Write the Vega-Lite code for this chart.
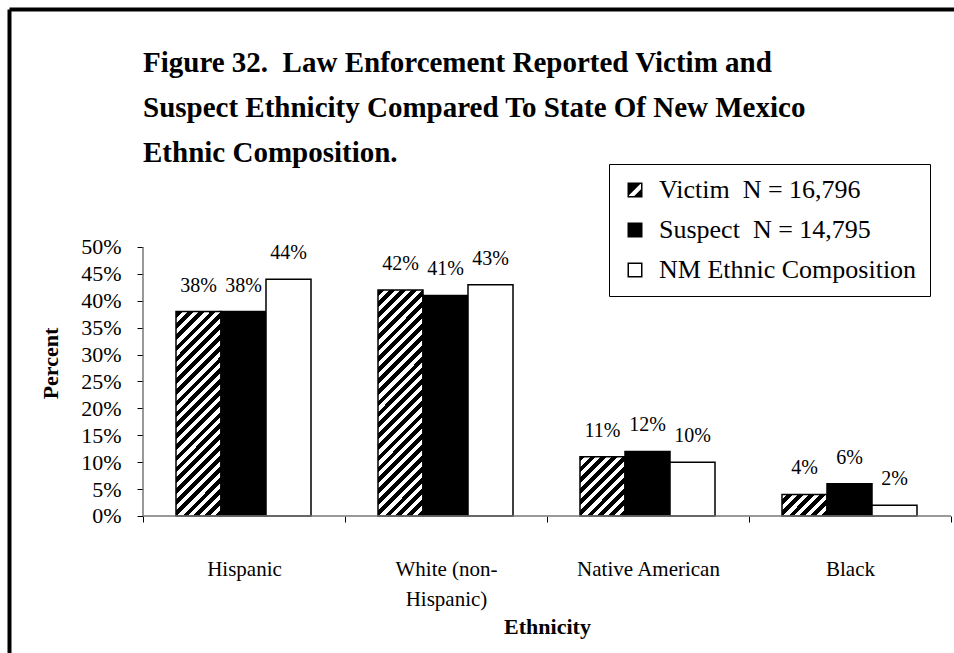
{
  "$schema": "https://vega.github.io/schema/vega-lite/v6.json",
  "width": 945,
  "height": 644,
  "autosize": {"type": "none"},
  "padding": {"left": 9, "top": 9, "right": 0, "bottom": 0},
  "background": "white",
  "config": {
    "view": {"stroke": null},
    "font": "Liberation Serif",
    "axis": {"labelFont": "Liberation Serif", "titleFont": "Liberation Serif", "labelColor": "black", "titleColor": "black"},
    "legend": {"labelFont": "Liberation Serif", "titleFont": "Liberation Serif"},
    "text": {"font": "Liberation Serif"},
    "title": {"font": "Liberation Serif"}
  },
  "title": {
    "text": ["Figure 32.\u00a0 Law Enforcement Reported Victim and", "Suspect Ethnicity Compared To State Of New Mexico", "Ethnic Composition."],
    "anchor": "start",
    "frame": "group",
    "dx": 134,
    "dy": 182,
    "offset": 0,
    "baseline": "alphabetic",
    "lineHeight": 45,
    "fontSize": 29,
    "fontWeight": "bold",
    "font": "Liberation Serif",
    "color": "black"
  },
  "data": {
    "values": [
      {"Ethnicity": "Hispanic", "Series": "Victim", "Percent": 38},
      {"Ethnicity": "Hispanic", "Series": "Suspect", "Percent": 38},
      {"Ethnicity": "Hispanic", "Series": "NM", "Percent": 44},
      {"Ethnicity": "White (non-Hispanic)", "Series": "Victim", "Percent": 42},
      {"Ethnicity": "White (non-Hispanic)", "Series": "Suspect", "Percent": 41},
      {"Ethnicity": "White (non-Hispanic)", "Series": "NM", "Percent": 43},
      {"Ethnicity": "Native American", "Series": "Victim", "Percent": 11},
      {"Ethnicity": "Native American", "Series": "Suspect", "Percent": 12},
      {"Ethnicity": "Native American", "Series": "NM", "Percent": 10},
      {"Ethnicity": "Black", "Series": "Victim", "Percent": 4},
      {"Ethnicity": "Black", "Series": "Suspect", "Percent": 6},
      {"Ethnicity": "Black", "Series": "NM", "Percent": 2}
    ]
  },
  "layer": [
    {
      "transform": [{"filter": "datum.Series === 'Victim'"}],
      "mark": {
        "type": "bar",
        "stroke": null,
        "fill": {
          "gradient": "linear", "x1": 0, "y1": 0, "x2": 0.18996, "y2": 1.13551,
          "stops": [
            {"offset": 0, "color": "#000"},
            {"offset": 0.01752, "color": "#000"}, {"offset": 0.01752, "color": "#fff"},
            {"offset": 0.03503, "color": "#fff"}, {"offset": 0.03503, "color": "#000"},
            {"offset": 0.05255, "color": "#000"}, {"offset": 0.05255, "color": "#fff"},
            {"offset": 0.07006, "color": "#fff"}, {"offset": 0.07006, "color": "#000"},
            {"offset": 0.08758, "color": "#000"}, {"offset": 0.08758, "color": "#fff"},
            {"offset": 0.1051, "color": "#fff"}, {"offset": 0.1051, "color": "#000"},
            {"offset": 0.12261, "color": "#000"}, {"offset": 0.12261, "color": "#fff"},
            {"offset": 0.14013, "color": "#fff"}, {"offset": 0.14013, "color": "#000"},
            {"offset": 0.15764, "color": "#000"}, {"offset": 0.15764, "color": "#fff"},
            {"offset": 0.17516, "color": "#fff"}, {"offset": 0.17516, "color": "#000"},
            {"offset": 0.19268, "color": "#000"}, {"offset": 0.19268, "color": "#fff"},
            {"offset": 0.21019, "color": "#fff"}, {"offset": 0.21019, "color": "#000"},
            {"offset": 0.22771, "color": "#000"}, {"offset": 0.22771, "color": "#fff"},
            {"offset": 0.24522, "color": "#fff"}, {"offset": 0.24522, "color": "#000"},
            {"offset": 0.26274, "color": "#000"}, {"offset": 0.26274, "color": "#fff"},
            {"offset": 0.28025, "color": "#fff"}, {"offset": 0.28025, "color": "#000"},
            {"offset": 0.29777, "color": "#000"}, {"offset": 0.29777, "color": "#fff"},
            {"offset": 0.31529, "color": "#fff"}, {"offset": 0.31529, "color": "#000"},
            {"offset": 0.3328, "color": "#000"}, {"offset": 0.3328, "color": "#fff"},
            {"offset": 0.35032, "color": "#fff"}, {"offset": 0.35032, "color": "#000"},
            {"offset": 0.36783, "color": "#000"}, {"offset": 0.36783, "color": "#fff"},
            {"offset": 0.38535, "color": "#fff"}, {"offset": 0.38535, "color": "#000"},
            {"offset": 0.40287, "color": "#000"}, {"offset": 0.40287, "color": "#fff"},
            {"offset": 0.42038, "color": "#fff"}, {"offset": 0.42038, "color": "#000"},
            {"offset": 0.4379, "color": "#000"}, {"offset": 0.4379, "color": "#fff"},
            {"offset": 0.45541, "color": "#fff"}, {"offset": 0.45541, "color": "#000"},
            {"offset": 0.47293, "color": "#000"}, {"offset": 0.47293, "color": "#fff"},
            {"offset": 0.49045, "color": "#fff"}, {"offset": 0.49045, "color": "#000"},
            {"offset": 0.50796, "color": "#000"}, {"offset": 0.50796, "color": "#fff"},
            {"offset": 0.52548, "color": "#fff"}, {"offset": 0.52548, "color": "#000"},
            {"offset": 0.54299, "color": "#000"}, {"offset": 0.54299, "color": "#fff"},
            {"offset": 0.56051, "color": "#fff"}, {"offset": 0.56051, "color": "#000"},
            {"offset": 0.57803, "color": "#000"}, {"offset": 0.57803, "color": "#fff"},
            {"offset": 0.59554, "color": "#fff"}, {"offset": 0.59554, "color": "#000"},
            {"offset": 0.61306, "color": "#000"}, {"offset": 0.61306, "color": "#fff"},
            {"offset": 0.63057, "color": "#fff"}, {"offset": 0.63057, "color": "#000"},
            {"offset": 0.64809, "color": "#000"}, {"offset": 0.64809, "color": "#fff"},
            {"offset": 0.66561, "color": "#fff"}, {"offset": 0.66561, "color": "#000"},
            {"offset": 0.68312, "color": "#000"}, {"offset": 0.68312, "color": "#fff"},
            {"offset": 0.70064, "color": "#fff"}, {"offset": 0.70064, "color": "#000"},
            {"offset": 0.71815, "color": "#000"}, {"offset": 0.71815, "color": "#fff"},
            {"offset": 0.73567, "color": "#fff"}, {"offset": 0.73567, "color": "#000"},
            {"offset": 0.75318, "color": "#000"}, {"offset": 0.75318, "color": "#fff"},
            {"offset": 0.7707, "color": "#fff"}, {"offset": 0.7707, "color": "#000"},
            {"offset": 0.78822, "color": "#000"}, {"offset": 0.78822, "color": "#fff"},
            {"offset": 0.80573, "color": "#fff"}, {"offset": 0.80573, "color": "#000"},
            {"offset": 0.82325, "color": "#000"}, {"offset": 0.82325, "color": "#fff"},
            {"offset": 0.84076, "color": "#fff"}, {"offset": 0.84076, "color": "#000"},
            {"offset": 0.85828, "color": "#000"}, {"offset": 0.85828, "color": "#fff"},
            {"offset": 0.8758, "color": "#fff"}, {"offset": 0.8758, "color": "#000"},
            {"offset": 0.89331, "color": "#000"}, {"offset": 0.89331, "color": "#fff"},
            {"offset": 0.91083, "color": "#fff"}, {"offset": 0.91083, "color": "#000"},
            {"offset": 0.92834, "color": "#000"}, {"offset": 0.92834, "color": "#fff"},
            {"offset": 0.94586, "color": "#fff"}, {"offset": 0.94586, "color": "#000"},
            {"offset": 0.96338, "color": "#000"}, {"offset": 0.96338, "color": "#fff"},
            {"offset": 0.98089, "color": "#fff"}, {"offset": 0.98089, "color": "#000"},
            {"offset": 0.99841, "color": "#000"}, {"offset": 0.99841, "color": "#fff"},
            {"offset": 1, "color": "#fff"}
          ]
        }
      },
      "encoding": {
        "x": {
          "field": "Ethnicity", "type": "nominal",
          "scale": {"domain": ["Hispanic", "White (non-Hispanic)", "Native American", "Black"], "paddingInner": 0, "paddingOuter": 0.33911, "align": 0.9781, "round": false},
          "axis": {
            "orient": "bottom", "offset": -137, "domain": false, "grid": false,
            "tickBand": "extent", "ticks": true, "tickSize": 6, "tickColor": "black", "tickWidth": 1,
            "labelAngle": 0, "labelFontSize": 21, "labelPadding": 36, "labelLineHeight": 30,
            "labelExpr": "datum.label == 'White (non-Hispanic)' ? ['White (non-', 'Hispanic)'] : datum.label",
            "title": "Ethnicity", "titleFontSize": 22, "titleFontWeight": "bold",
            "titleX": 538, "titleY": 117, "titleBaseline": "alphabetic"
          }
        },
        "xOffset": {"field": "Series", "type": "nominal", "scale": {"domain": ["Victim", "Suspect", "NM"], "paddingInner": 0, "paddingOuter": 0.74444, "align": 0.49254}},
        "y": {
          "datum": 50, "type": "quantitative",
          "scale": {"domain": [-25.465, 94.238], "nice": false, "zero": false},
          "axis": {
            "orient": "left", "offset": -134, "domain": false, "grid": false,
            "values": [0, 5, 10, 15, 20, 25, 30, 35, 40, 45, 50],
            "labelExpr": "datum.value + '%'",
            "tickSize": 6, "tickColor": "black", "tickWidth": 1,
            "labelFontSize": 22, "labelPadding": 16,
            "title": "Percent", "titleFontSize": 22, "titleFontWeight": "bold",
            "titleX": -93, "titleY": 354, "titleBaseline": "middle"
          }
        },
        "y2": {"datum": 0}
      }
    },
    {
      "transform": [{"filter": "datum.Series === 'Victim'"}],
      "mark": {"type": "bar", "fill": "white", "stroke": null},
      "encoding": {
        "x": {"field": "Ethnicity", "type": "nominal", "axis": null},
        "xOffset": {"field": "Series", "type": "nominal"},
        "y": {"field": "Percent", "type": "quantitative", "axis": null},
        "y2": {"datum": 50.6}
      }
    },
    {
      "transform": [{"filter": "datum.Series === 'Victim'"}],
      "mark": {"type": "bar", "fill": "transparent", "stroke": "black", "strokeWidth": 1.5},
      "encoding": {
        "x": {"field": "Ethnicity", "type": "nominal", "axis": null},
        "xOffset": {"field": "Series", "type": "nominal"},
        "y": {"field": "Percent", "type": "quantitative", "axis": null},
        "y2": {"datum": 0}
      }
    },
    {
      "transform": [{"filter": "datum.Series !== 'Victim'"}],
      "mark": {"type": "bar", "stroke": "black", "strokeWidth": 1.5},
      "encoding": {
        "x": {"field": "Ethnicity", "type": "nominal", "axis": null},
        "xOffset": {"field": "Series", "type": "nominal"},
        "y": {"field": "Percent", "type": "quantitative", "axis": null},
        "y2": {"datum": 0},
        "fill": {"condition": {"test": "datum.Series === 'Suspect'", "value": "black"}, "value": "white"}
      }
    },
    {
      "mark": {"type": "point", "filled": true, "fill": "black", "opacity": 1, "strokeWidth": 0, "size": 225, "clip": true},
      "encoding": {
        "x": {"field": "Ethnicity", "type": "nominal", "axis": null},
        "y": {"datum": -100, "type": "quantitative", "axis": null},
        "shape": {
          "field": "Series", "type": "nominal",
          "scale": {
            "domain": ["Victim", "Suspect", "NM"],
            "range": [
              "M-1,-1H1V1H-1Z M-0.8,-0.8V0.8H0.8V-0.8Z M-1,-1L0.9,-1L-1,0.9Z M1,-0.3L1,1L-0.3,1Z",
              "M-1,-1H1V1H-1Z",
              "M-1,-1H1V1H-1Z M-0.8,-0.8V0.8H0.8V-0.8Z"
            ]
          },
          "legend": {
            "orient": "none", "legendX": 600, "legendY": 155, "title": null,
            "labelExpr": "datum.label == 'Victim' ? 'Victim\u00a0 N = 16,796' : datum.label == 'Suspect' ? 'Suspect\u00a0 N = 14,795' : 'NM Ethnic Composition'",
            "labelFontSize": 26, "labelColor": "black", "labelOffset": 11, "labelLimit": 400,
            "symbolSize": 225, "symbolStrokeWidth": 0, "symbolOpacity": 1, "symbolFillColor": "black",
            "rowPadding": 14, "padding": 13,
            "strokeColor": "black", "fillColor": "white",
            "encode": {"legend": {"strokeWidth": {"value": 3}}}
          }
        }
      }
    },
    {
      "transform": [{"calculate": "datum.Percent + '%'", "as": "Label"}],
      "mark": {"type": "text", "baseline": "alphabetic", "dy": -20, "fontSize": 20, "font": "Liberation Serif", "color": "black"},
      "encoding": {
        "x": {"field": "Ethnicity", "type": "nominal", "axis": null},
        "xOffset": {"field": "Series", "type": "nominal"},
        "y": {"field": "Percent", "type": "quantitative", "axis": null},
        "text": {"field": "Label", "type": "nominal"}
      }
    },
    {
      "transform": [{"filter": "datum.Series === 'NM'"}],
      "mark": {"type": "rule", "color": "#777", "strokeWidth": 1.5},
      "encoding": {
        "x": {
          "field": "Ethnicity", "type": "nominal", "bandPosition": 0,
          "axis": {"orient": "top", "offset": 0, "domain": true, "domainColor": "black", "domainWidth": 4, "ticks": false, "labels": false, "title": null, "grid": false}
        },
        "x2": {"field": "Ethnicity", "bandPosition": 1},
        "y": {
          "datum": 0, "type": "quantitative",
          "axis": {"orient": "left", "offset": 0, "domain": true, "domainColor": "black", "domainWidth": 4, "ticks": false, "labels": false, "title": null, "grid": false}
        }
      }
    },
    {
      "transform": [{"filter": "datum.Series === 'NM' && datum.Ethnicity === 'Hispanic'"}],
      "mark": {"type": "rule", "color": "#777", "strokeWidth": 1.5},
      "encoding": {
        "x": {"datum": "Hispanic", "type": "nominal", "bandPosition": 0, "axis": null},
        "y": {"datum": 0, "type": "quantitative", "axis": null},
        "y2": {"datum": 50}
      }
    }
  ],
  "resolve": {"axis": {"x": "independent", "y": "independent"}}
}
